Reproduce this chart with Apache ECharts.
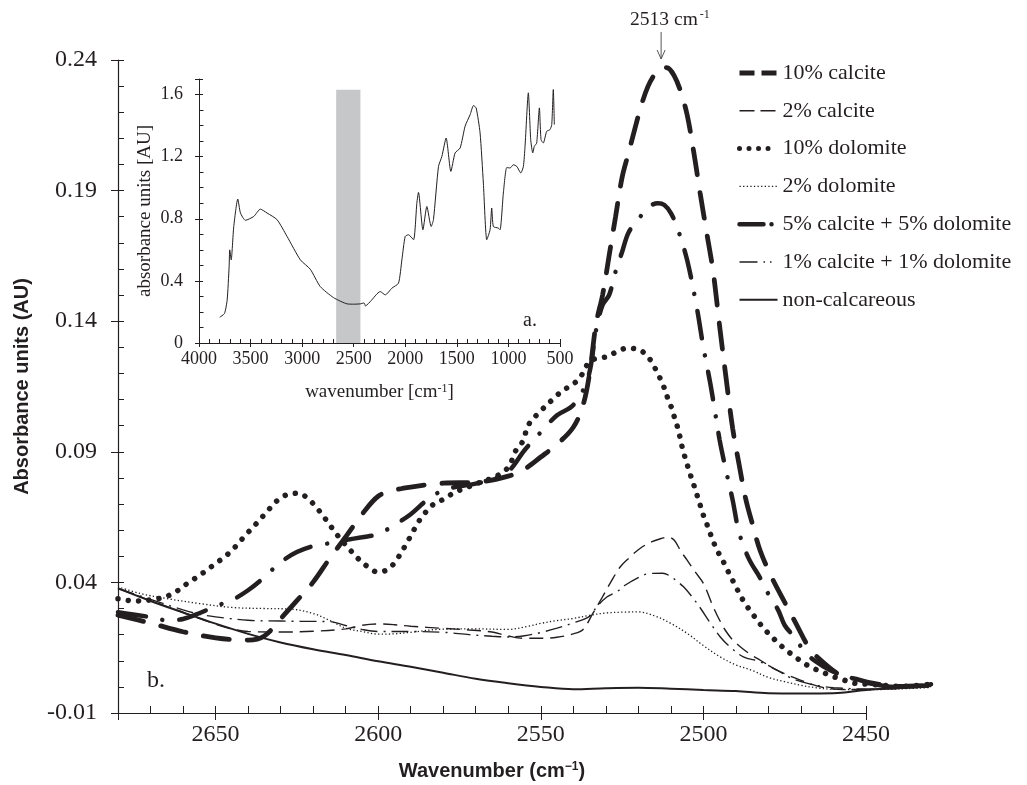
<!DOCTYPE html>
<html><head><meta charset="utf-8">
<script src="https://cdn.jsdelivr.net/npm/echarts@6/dist/echarts.min.js"></script>
<style>html,body{margin:0;padding:0;background:#fff}#c{width:1027px;height:785px}</style>
</head><body><div id="c"></div>
<script>
// ---------- data ----------
const seriesNames = ['10% calcite','2% calcite','10% dolomite','2% dolomite','5% calcite + 5% dolomite','1% calcite + 1% dolomite','non-calcareous'];

const calc10Wn = [2680,2670,2660,2650,2640,2635,2630,2625,2620,2615,2610,2605,2600,2595,2590,2580,2570,2560,2555,2550,2545,2540,2537,2535,2533,2531,2529,2527,2525,2523,2521,2519,2517,2515,2513,2511,2509,2507,2505,2503,2501,2499,2497,2495,2493,2491,2489,2487,2485,2482.5,2479,2475,2471,2468,2465,2458,2453,2448,2440,2430];
const calc10Abs = [0.0275,0.0244,0.0211,0.0188,0.0179,0.0195,0.0261,0.0330,0.0401,0.0490,0.0574,0.0660,0.0730,0.0753,0.0765,0.0780,0.0783,0.0807,0.0834,0.0880,0.0929,0.0994,0.1079,0.1200,0.1390,0.1500,0.1650,0.1800,0.1950,0.2045,0.2140,0.2230,0.2300,0.2345,0.2372,0.2370,0.2340,0.2280,0.2190,0.2050,0.1890,0.1740,0.1590,0.1380,0.1180,0.0990,0.0850,0.0720,0.0627,0.0520,0.0420,0.0324,0.0230,0.0160,0.0114,0.0045,0.0030,0.0014,0.0002,0.0006];

const calc2Wn = [2680,2670,2660,2650,2645,2640,2630,2620,2610,2605,2600,2595,2590,2580,2572,2565,2560,2555,2550,2545,2540,2537,2534,2531,2528.7,2525.6,2523,2519.5,2516,2513,2510.8,2509,2507,2505,2502.5,2500,2497,2495,2493,2491,2488,2485,2482.5,2477.4,2470,2463,2455,2450,2440,2430];
const calc2Abs = [0.0377,0.0330,0.0285,0.0240,0.0222,0.0212,0.0210,0.0213,0.0222,0.0236,0.0241,0.0238,0.0232,0.0224,0.0218,0.0210,0.0195,0.0186,0.0186,0.0190,0.0203,0.0220,0.0281,0.0345,0.0396,0.0459,0.0492,0.0530,0.0555,0.0568,0.0574,0.0562,0.0521,0.0485,0.0440,0.0396,0.0307,0.0255,0.0212,0.0180,0.0147,0.0120,0.0102,0.0064,0.0025,-0.0003,-0.0010,-0.0010,-0.0005,0.0000];

const dol10Wn = [2680,2677.5,2674.4,2667.5,2664.2,2661.1,2658.5,2655.6,2652.7,2650,2647.2,2644.7,2642.4,2640.1,2637.7,2635.4,2633.2,2630.3,2627.4,2624.4,2621.6,2619,2616.7,2614.6,2612.7,2608.4,2605.9,2603.1,2600.2,2597.1,2594.6,2592.8,2591.1,2589.4,2587.7,2585.7,2583.3,2580,2577.4,2574.4,2571,2568.2,2565,2561.5,2559.5,2557.9,2555.9,2553.5,2551.1,2545.8,2543.1,2540.5,2538,2534.9,2532.3,2529.7,2526.6,2523.6,2520,2517.2,2515.4,2513.8,2512.3,2511.1,2509.9,2508.9,2507.9,2507.1,2506.3,2505.3,2504.3,2503.2,2502.2,2501.2,2500.2,2498.9,2497.7,2496.4,2494.8,2493.3,2491.7,2490.2,2488.7,2486.8,2484.8,2482.7,2480.4,2478.1,2475.5,2472.8,2470,2467.1,2464,2460.7,2457.4,2454,2448.6,2439.4,2430.2];
const dol10Abs = [0.0337,0.0332,0.0329,0.0338,0.0351,0.0373,0.0398,0.0421,0.0447,0.0472,0.0498,0.0526,0.0558,0.0590,0.0622,0.0654,0.0685,0.0721,0.0738,0.0741,0.0721,0.0687,0.0651,0.0615,0.0583,0.0521,0.0488,0.0459,0.0440,0.0449,0.0481,0.0517,0.0553,0.0592,0.0630,0.0664,0.0696,0.0718,0.0738,0.0756,0.0772,0.0785,0.0799,0.0823,0.0850,0.0900,0.0932,0.1009,0.1043,0.1107,0.1136,0.1155,0.1183,0.1247,0.1258,0.1264,0.1283,0.1296,0.1292,0.1266,0.1232,0.1194,0.1153,0.1110,0.1072,0.1032,0.0992,0.0951,0.0906,0.0865,0.0823,0.0783,0.0744,0.0705,0.0664,0.0622,0.0581,0.0540,0.0500,0.0466,0.0424,0.0389,0.0351,0.0312,0.0278,0.0243,0.0210,0.0181,0.0151,0.0124,0.0099,0.0076,0.0060,0.0042,0.0029,0.0015,0.0010,0.0002,0.0010];

const dol2Wn = [2680,2673,2665,2655,2645,2635,2627,2620,2615,2610,2605,2600,2595,2590,2580,2570,2560,2554,2550,2545,2540,2535,2530,2525,2520,2515,2510,2505,2500,2495,2490,2485,2480,2475,2470,2465,2460,2450,2440,2430];
const dol2Abs = [0.0383,0.0357,0.0338,0.0319,0.0304,0.0300,0.0298,0.0281,0.0255,0.0225,0.0212,0.0202,0.0203,0.0209,0.0221,0.0222,0.0220,0.0232,0.0243,0.0254,0.0262,0.0274,0.0283,0.0286,0.0287,0.0272,0.0243,0.0205,0.0158,0.0116,0.0084,0.0063,0.0036,0.0020,0.0006,-0.0004,-0.0009,-0.0011,-0.0008,-0.0002];

const mix55Wn = [2680,2670,2665,2660,2655,2650,2645,2640,2635,2630,2625,2620,2615,2610,2605,2600,2595,2590,2585,2580,2575,2570,2565,2560,2555,2550,2545,2540,2535.5,2533,2531,2529,2527,2525,2523,2520,2517,2514,2512,2510,2508,2505,2502,2500,2498,2496.7,2495,2493,2491,2489,2486,2482.5,2480,2477,2475,2472,2469,2466,2461,2456,2449,2440,2430];
const mix55Abs = [0.0286,0.0267,0.0255,0.0260,0.0282,0.0309,0.0332,0.0370,0.0420,0.0477,0.0516,0.0539,0.0550,0.0562,0.0573,0.0585,0.0620,0.0661,0.0715,0.0753,0.0768,0.0778,0.0795,0.0825,0.0906,0.0975,0.1040,0.1079,0.1182,0.1366,0.1462,0.1500,0.1590,0.1665,0.1740,0.1790,0.1835,0.1852,0.1845,0.1814,0.1757,0.1634,0.1450,0.1300,0.1170,0.1075,0.0945,0.0826,0.0715,0.0590,0.0490,0.0416,0.0355,0.0294,0.0236,0.0190,0.0137,0.0102,0.0064,0.0041,0.0014,-0.0001,0.0010];

const mix11Wn = [2680,2670,2660,2655,2650,2640,2630,2624,2615,2610,2605,2600,2590,2580,2572,2565,2560,2555,2550,2545,2540,2535,2532.8,2529.7,2526.4,2524.1,2518.4,2516.5,2512.5,2510.2,2508.2,2506.1,2503.5,2501,2497.8,2494.8,2491.8,2487.7,2482.5,2477.4,2473.3,2470,2465,2460,2450,2440,2430];
const mix11Abs = [0.0377,0.0335,0.0295,0.0278,0.0268,0.0255,0.0252,0.0251,0.0250,0.0235,0.0220,0.0212,0.0212,0.0209,0.0200,0.0194,0.0191,0.0196,0.0208,0.0225,0.0245,0.0270,0.0306,0.0344,0.0366,0.0389,0.0428,0.0434,0.0435,0.0424,0.0405,0.0383,0.0345,0.0303,0.0243,0.0191,0.0153,0.0115,0.0096,0.0064,0.0035,0.0020,0.0005,-0.0003,-0.0008,-0.0005,0.0002];

const nonCalcWn = [2680,2670,2660,2650,2640,2630,2620,2610,2600,2590,2580,2570,2560,2550,2540,2530,2520,2510,2500,2490,2480,2470,2460,2450,2440,2430];
const nonCalcAbs = [0.0377,0.0329,0.0285,0.0242,0.0203,0.0170,0.0144,0.0122,0.0098,0.0077,0.0054,0.0031,0.0014,0.0000,-0.0009,-0.0005,-0.0003,-0.0007,-0.0012,-0.0016,-0.0024,-0.0025,-0.0024,-0.0012,-0.0005,0.0003];

// inset full spectrum
const insetWn = [3799,3753,3727,3708,3702,3688,3663,3624,3598,3550,3469,3405,3340,3243,3146,3017,2921,2824,2695,2565,2500,2436,2400,2385,2372,2340,2243,2194,2130,2066,2033,2001,1969,1920,1888,1872,1829,1791,1749,1727,1678,1645,1604,1558,1517,1468,1420,1371,1339,1313,1275,1243,1210,1178,1162,1146,1098,1081,1049,1016,984,952,919,880,855,839,807,784,764,749,726,700,684,662,629,597,580,565,555];
const insetAbs = [0.166,0.19,0.277,0.49,0.60,0.535,0.75,0.927,0.837,0.79,0.815,0.862,0.837,0.794,0.686,0.535,0.475,0.363,0.292,0.252,0.250,0.252,0.258,0.238,0.245,0.266,0.331,0.31,0.353,0.385,0.535,0.686,0.697,0.665,0.9,0.97,0.729,0.879,0.75,0.794,1.137,1.202,1.32,1.105,1.224,1.256,1.396,1.471,1.529,1.514,1.353,1.03,0.665,0.729,0.869,0.75,0.74,0.729,0.966,1.13,1.127,1.148,1.137,1.095,1.137,1.266,1.611,1.31,1.224,1.266,1.288,1.514,1.31,1.288,1.363,1.374,1.406,1.632,1.406];
const bandWn = [2670, 2435];
const bandTop = 1.63;

const dataRange = {min: 2430, max: 2680};          // measured span of the spectra
const mainXTicks = {min: 2450, max: 2680, interval: 50};
const mainYTicks = {min: -0.01, max: 0.24, interval: 0.05};
const insetXTicks = {min: 500, max: 4000, interval: 500};
const insetYTicks = {min: 0, max: 1.7, interval: 0.4};
const peakWn = 2513;

// ---------- chart ----------
const SERIF = '"Liberation Serif", "Times New Roman", serif';
const SANS = '"Liberation Sans", Arial, sans-serif';
const INK = '#231f20';
const chart = echarts.init(document.getElementById('c'), null, {renderer: 'canvas'});
const pairs = (xs, ys) => xs.map((x, i) => [x, ys[i]]);

function axisPair(gridIndex, ticks, opts) {
  const base = {
    type: 'value', gridIndex, min: ticks.min, max: ticks.max, interval: ticks.interval,
    inverse: !!opts.inverse, position: opts.position,
    splitLine: {show: false}, minorSplitLine: {show: false}
  };
  const primary = Object.assign({}, base, {
    axisLine: {show: true, onZero: false, lineStyle: {color: INK, width: opts.lineWidth || 1}},
    axisTick: {show: true, inside: true, length: opts.inLen, lineStyle: {color: INK, width: 1}},
    minorTick: {show: true, splitNumber: opts.minor, length: opts.minorLen, lineStyle: {color: INK, width: 1}},
    axisLabel: Object.assign({show: true, color: INK, fontFamily: SERIF}, opts.label),
  }, opts.name || {});
  const ghost = Object.assign({}, base, {
    axisLine: {show: false, onZero: false},
    axisTick: {show: true, inside: false, length: opts.outLen, lineStyle: {color: INK, width: 1}},
    minorTick: {show: false},
    axisLabel: {show: false}
  });
  return [primary, ghost];
}

// plotting axes (hidden) spanning the full measured range
const plotX = {type: 'value', gridIndex: 0, min: dataRange.min, max: dataRange.max, inverse: true, show: false};
const plotY = {type: 'value', gridIndex: 0, min: mainYTicks.min, max: mainYTicks.max, show: false};

const mainX = axisPair(1, mainXTicks, {
  inverse: true, position: 'bottom', inLen: 7, outLen: 7, minor: 5, minorLen: 7, lineWidth: 1.2,
  label: {fontSize: 24, margin: 10, formatter: v => (Math.abs(v % 50) < 1e-6 ? String(v) : '')},
  name: {
    name: 'Wavenumber (cm{s|\u22121})', nameLocation: 'middle', nameGap: 48,
    nameTextStyle: {fontFamily: SANS, fontWeight: 'bold', fontSize: 20, color: INK,
      rich: {s: {fontFamily: SANS, fontWeight: 'bold', fontSize: 12, verticalAlign: 'top', color: INK}}}
  }
});
const mainY = axisPair(1, mainYTicks, {
  position: 'left', inLen: 6, outLen: 7, minor: 5, minorLen: 6, lineWidth: 1.2,
  label: {fontSize: 24, margin: 21, formatter: v => (Math.round(v * 100) / 100).toFixed(2)},
  name: {
    name: 'Absorbance units (AU)', nameLocation: 'middle', nameGap: 86,
    nameTextStyle: {fontFamily: SANS, fontWeight: 'bold', fontSize: 20, color: INK}
  }
});
const insetX = axisPair(2, insetXTicks, {
  inverse: true, position: 'bottom', inLen: 4, outLen: 4, minor: 5, minorLen: 4,
  label: {fontSize: 18, margin: 7, formatter: v => String(v)},
  name: {
    name: 'wavenumber [cm{s|-1}]', nameLocation: 'middle', nameGap: 40,
    nameTextStyle: {fontFamily: SERIF, fontSize: 19, color: INK,
      rich: {s: {fontFamily: SERIF, fontSize: 12, verticalAlign: 'top', color: INK}}}
  }
});
const insetY = axisPair(2, insetYTicks, {
  position: 'left', inLen: 4, outLen: 4, minor: 4, minorLen: 4.5,
  label: {fontSize: 18, margin: 16, formatter: v => (Math.abs(v - 1.7) < 1e-6 ? '' : (v === 0 ? '0' : (Math.round(v * 10) / 10).toFixed(1)))},
  name: {
    name: 'absorbance units [AU]', nameLocation: 'middle', nameGap: 44,
    nameTextStyle: {fontFamily: SERIF, fontSize: 19, color: INK}
  }
});

const styles = {
  '10% calcite': {width: 4.8, type: [26, 18], cap: 'round'},
  '2% calcite': {width: 1.4, type: [14, 7], cap: 'butt'},
  '10% dolomite': {width: 5.5, type: [0.01, 10.3], cap: 'round'},
  '2% dolomite': {width: 1.3, type: [1.3, 2.3], cap: 'butt'},
  '5% calcite + 5% dolomite': {width: 4.5, type: [28, 17, 0.01, 17], cap: 'round'},
  '1% calcite + 1% dolomite': {width: 1.4, type: [17, 6, 2, 6], cap: 'butt'},
  'non-calcareous': {width: 2, type: 'solid', cap: 'butt'}
};
const legendStyles = {
  '10% calcite': {width: 5, type: [15, 7], cap: 'butt'},
  '2% calcite': {width: 1.5, type: [15, 6], cap: 'butt'},
  '10% dolomite': {width: 5, type: [0.01, 9.5], cap: 'round'},
  '2% dolomite': {width: 1.3, type: [1.3, 2.3], cap: 'butt'},
  '5% calcite + 5% dolomite': {width: 4.5, type: [24, 8, 0.01, 30], cap: 'round'},
  '1% calcite + 1% dolomite': {width: 1.5, type: [18, 6, 1.5, 5, 1.5, 30], cap: 'butt'},
  'non-calcareous': {width: 2, type: 'solid', cap: 'butt'}
};
const dataSets = {
  '10% calcite': pairs(calc10Wn, calc10Abs),
  '2% calcite': pairs(calc2Wn, calc2Abs),
  '10% dolomite': pairs(dol10Wn, dol10Abs),
  '2% dolomite': pairs(dol2Wn, dol2Abs),
  '5% calcite + 5% dolomite': pairs(mix55Wn, mix55Abs),
  '1% calcite + 1% dolomite': pairs(mix11Wn, mix11Abs),
  'non-calcareous': pairs(nonCalcWn, nonCalcAbs)
};

const mainSeries = seriesNames.map(n => ({
  name: n, type: 'line', xAxisIndex: 0, yAxisIndex: 0, data: dataSets[n],
  symbol: 'none', showSymbol: false, smooth: 0.35, silent: true,
  color: INK,
  lineStyle: Object.assign({color: INK}, styles[n])
}));

const legendText = {fontFamily: SERIF, fontSize: 22, color: INK, lineHeight: 22};
const W = 748;   // width of the drawn 2680..2450 axis
const option = {
  animation: false,
  backgroundColor: '#fff',
  grid: [
    {left: 118, top: 60, width: W * (dataRange.max - dataRange.min) / (mainXTicks.max - mainXTicks.min), height: 653, outerBoundsMode: 'none', containLabel: false},
    {left: 118, top: 60, width: W, height: 653, outerBoundsMode: 'none', containLabel: false},
    {left: 199, top: 79, width: 361, height: 264, outerBoundsMode: 'none', containLabel: false}
  ],
  xAxis: [plotX, mainX[0], mainX[1], insetX[0], insetX[1]],
  yAxis: [plotY, mainY[0], mainY[1], insetY[0], insetY[1]],
  legend: {
    orient: 'vertical', left: 737, top: 62, padding: 0, itemWidth: 38, itemHeight: 14, itemGap: 15.8,
    selectedMode: false,
    itemStyle: {opacity: 0},
    textStyle: legendText,
    data: seriesNames.map(n => ({
      name: n,
      itemStyle: {opacity: 0},
      textStyle: legendText,
      lineStyle: Object.assign({color: INK}, legendStyles[n])
    }))
  },
  series: mainSeries.concat([{
    name: 'spectrum', type: 'line', xAxisIndex: 3, yAxisIndex: 3,
    data: pairs(insetWn, insetAbs), symbol: 'none', smooth: 0.2, silent: true,
    lineStyle: {color: INK, width: 1}, color: INK,
    markArea: {
      silent: true, itemStyle: {color: '#c6c7c9'},
      data: [[{coord: [bandWn[0], 0]}, {coord: [bandWn[1], bandTop]}]]
    },
    z: 3
  }])
};
chart.setOption(option);

const px = chart.convertToPixel({xAxisIndex: 0}, peakWn);
chart.setOption({
  graphic: [
    {type: 'text', left: px - 31, top: 9, silent: true,
     style: {text: '{b|2513 cm}{s|-1}', fill: INK,
       rich: {b: {fontFamily: SERIF, fontSize: 19.5, lineHeight: 22, fill: INK},
              s: {fontFamily: SERIF, fontSize: 12, verticalAlign: 'top', lineHeight: 22, padding: [0, 0, 0, 2], fill: INK}}}},
    {type: 'line', silent: true, shape: {x1: px, y1: 32, x2: px, y2: 59}, style: {stroke: '#555', lineWidth: 1}},
    {type: 'polyline', silent: true, shape: {points: [[px - 4, 50], [px, 59], [px + 4, 50]]}, style: {stroke: '#555', lineWidth: 1, fill: null}},
    {type: 'text', left: 523, top: 311, silent: true, style: {text: 'a.', fontFamily: SERIF, fontSize: 20, fill: INK}},
    {type: 'text', left: 147, top: 669, silent: true, style: {text: 'b.', fontFamily: SERIF, fontSize: 24, fill: INK}}
  ]
});
</script></body></html>
